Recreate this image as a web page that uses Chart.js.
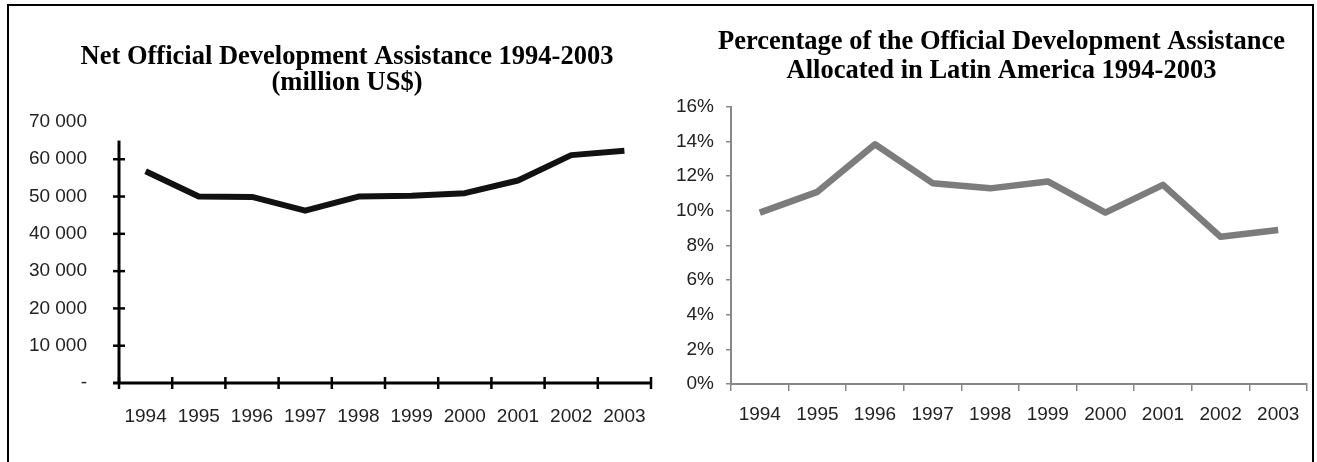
<!DOCTYPE html>
<html>
<head>
<meta charset="utf-8">
<title>Official Development Assistance 1994-2003</title>
<script src="https://cdn.jsdelivr.net/npm/chart.js@4/dist/chart.umd.min.js"></script>
<style>
  html, body { margin: 0; padding: 0; background: #fff; }
  #page { position: relative; width: 1317px; height: 462px; overflow: hidden; background: #fff; }
  #frame { position: absolute; left: 7px; top: 4px; width: 1303px; height: 520px;
           border: 2px solid #000; border-bottom: none; }
  #oda { position: absolute; left: 0; top: 0; }
  #share { position: absolute; left: 660px; top: 0; }
</style>
</head>
<body>
<div id="page">
  <div id="frame"></div>
  <canvas id="oda" width="660" height="462"></canvas>
  <canvas id="share" width="657" height="462"></canvas>
</div>
<script>
// Years shown on both charts
const years = ['1994', '1995', '1996', '1997', '1998', '1999', '2000', '2001', '2002', '2003'];

// Net ODA, million US$
const odaMillions = [56800, 50000, 49900, 46200, 50000, 50200, 50900, 54300, 61100, 62300];

// Share of ODA allocated in Latin America, percent
const latinAmericaShare = [9.9, 11.1, 13.85, 11.6, 11.3, 11.7, 9.9, 11.5, 8.5, 8.9];

// Tick values and their labels
const odaTicks = [0, 10000, 20000, 30000, 40000, 50000, 60000, 70000];
const odaTickLabels = ['-', '10 000', '20 000', '30 000', '40 000', '50 000', '60 000', '70 000'];
const shareTicks = [0, 2, 4, 6, 8, 10, 12, 14, 16];
const shareTickLabels = ['0%', '2%', '4%', '6%', '8%', '10%', '12%', '14%', '16%'];

// The left chart's vertical axis line stops at this value
const odaAxisTop = 65000;

const sansFont = '"Liberation Sans", Arial, sans-serif';
const serifFont = '"Liberation Serif", "Times New Roman", serif';

// Moves a chart's title sideways after layout (titles sit a little right of the plot centre)
const titleShift = (dx) => ({
  id: 'titleShift',
  afterLayout(chart) {
    const t = chart.titleBlock;
    if (t) { t.left += dx; t.right += dx; }
  }
});

// Draws the heavy black axes of the ODA chart with ticks crossing the lines
const crossedAxes = {
  id: 'crossedAxes',
  afterDatasetsDraw(chart) {
    const { ctx } = chart;
    const x = chart.scales.x, y = chart.scales.y;
    const ax = x.left;
    const ay = y.getPixelForValue(0);
    const half = 6;
    const seg = (x1, y1, x2, y2) => { ctx.beginPath(); ctx.moveTo(x1, y1); ctx.lineTo(x2, y2); ctx.stroke(); };
    ctx.save();
    ctx.strokeStyle = '#000';
    ctx.lineCap = 'butt';
    ctx.lineWidth = 3;
    seg(ax, y.getPixelForValue(odaAxisTop), ax, ay);
    seg(ax - half, ay, x.right, ay);
    ctx.lineWidth = 2.5;
    odaTicks.filter(v => v > 0 && v <= odaAxisTop).forEach(v => {
      const py = y.getPixelForValue(v);
      seg(ax - half, py, ax + half, py);
    });
    for (let i = 0; i <= years.length; i++) {
      const px = x.getPixelForValue(i - 0.5);
      seg(px, ay - half, px, ay + half);
    }
    ctx.restore();
  }
};

new Chart(document.getElementById('oda'), {
  type: 'line',
  data: {
    labels: years,
    datasets: [{
      data: odaMillions,
      borderColor: '#111',
      borderWidth: 6,
      borderJoinStyle: 'round',
      pointRadius: 0,
      tension: 0,
      fill: false
    }]
  },
  options: {
    responsive: false,
    animation: false,
    events: [],
    layout: { padding: { left: 0, right: 9, top: 0, bottom: 0 } },
    plugins: {
      legend: { display: false },
      tooltip: { enabled: false },
      title: {
        display: true,
        text: ['Net Official Development Assistance 1994-2003', '(million US$)'],
        color: '#000',
        font: { family: serifFont, size: 26.5, weight: 'bold', lineHeight: 0.98 },
        padding: { top: 44, bottom: 26 }
      }
    },
    scales: {
      x: {
        offset: true,
        grid: { display: false, offset: true },
        border: { display: false },
        ticks: { color: '#222', font: { family: sansFont, size: 19 }, padding: 14, maxRotation: 0, autoSkip: false },
        afterFit(scale) { scale.height = 79; }
      },
      y: {
        min: 0,
        max: 70000,
        grid: { display: false },
        border: { display: false },
        ticks: {
          stepSize: 10000,
          color: '#222',
          font: { family: sansFont, size: 19 },
          padding: 24,
          callback: (v) => odaTickLabels[odaTicks.indexOf(v)]
        },
        afterFit(scale) { scale.width = 119; }
      }
    }
  },
  plugins: [crossedAxes, titleShift(21.5)]
});

new Chart(document.getElementById('share'), {
  type: 'line',
  data: {
    labels: years,
    datasets: [{
      data: latinAmericaShare,
      borderColor: '#7c7c7c',
      borderWidth: 6.5,
      borderJoinStyle: 'round',
      pointRadius: 0,
      tension: 0,
      fill: false
    }]
  },
  options: {
    responsive: false,
    animation: false,
    events: [],
    layout: { padding: { left: 0, right: 10, top: 0, bottom: 0 } },
    plugins: {
      legend: { display: false },
      tooltip: { enabled: false },
      title: {
        display: true,
        text: ['Percentage of the Official Development Assistance', 'Allocated in Latin America 1994-2003'],
        color: '#000',
        font: { family: serifFont, size: 26.5, weight: 'bold', lineHeight: 1.094 },
        padding: { top: 27.5, bottom: 21.5 }
      }
    },
    scales: {
      x: {
        offset: true,
        grid: { display: true, offset: true, drawOnChartArea: false, drawTicks: true, tickLength: 7, color: '#888', lineWidth: 1.5 },
        border: { display: true, color: '#888', width: 2 },
        ticks: { color: '#222', font: { family: sansFont, size: 19 }, padding: 12, maxRotation: 0, autoSkip: false },
        afterFit(scale) { scale.height = 78; }
      },
      y: {
        min: 0,
        max: 16,
        grid: { display: true, drawOnChartArea: false, drawTicks: true, tickLength: 5, color: '#888', lineWidth: 1.5 },
        border: { display: true, color: '#888', width: 2 },
        ticks: {
          stepSize: 2,
          color: '#222',
          font: { family: sansFont, size: 19 },
          padding: 12,
          callback: (v) => shareTickLabels[shareTicks.indexOf(v)]
        },
        afterFit(scale) { scale.width = 71; }
      }
    }
  },
  plugins: [titleShift(18)]
});
</script>
</body>
</html>
